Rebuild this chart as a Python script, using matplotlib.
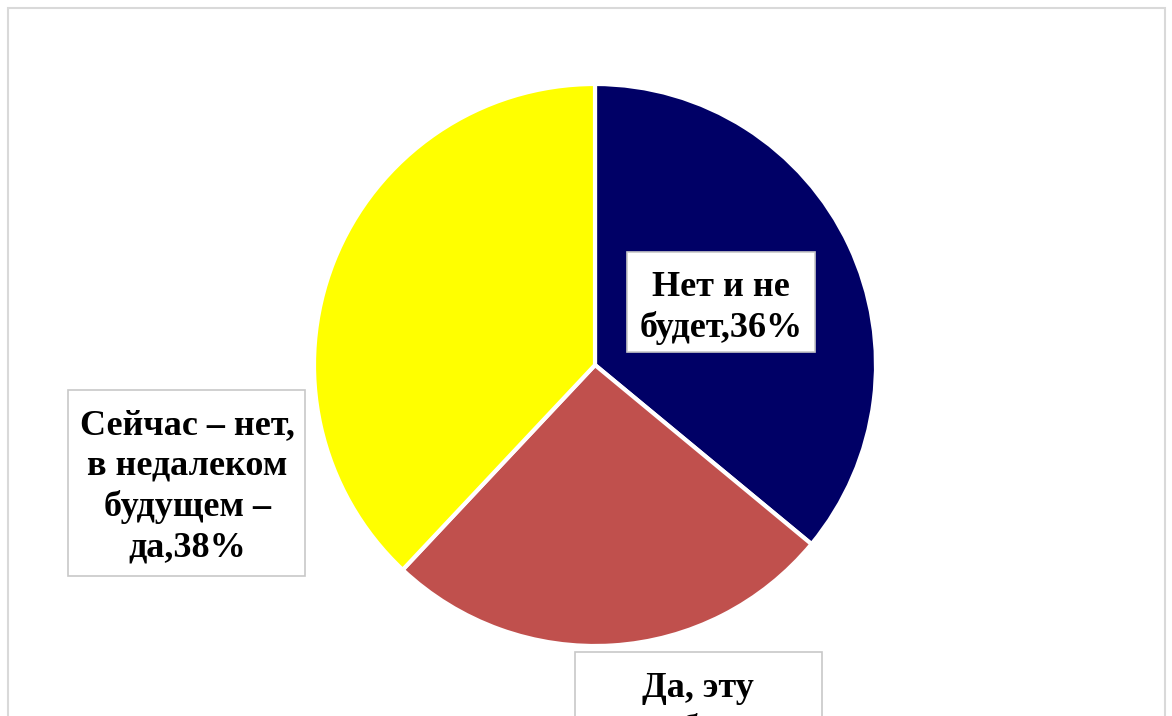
import matplotlib.pyplot as plt
from matplotlib.patches import Rectangle

labels = ["Нет и не\nбудет,36%", "Да, эту\nработу\nделаю,26%", "Сейчас – нет,\nв недалеком\nбудущем –\nда,38%"]
values = [36, 26, 38]
colors = ["#000066", "#C0504D", "#FFFF00"]

W, H = 1172, 716
fig = plt.figure(figsize=(W / 100, H / 100), dpi=100)
ax = fig.add_axes([0, 0, 1, 1])

# outer chart frame
ax.add_patch(Rectangle((8, -10), 1157, H - 8 + 10, fill=False, edgecolor="#d9d9d9", lw=1.5))

ax.pie(values, colors=colors, startangle=90, counterclock=False,
       center=(595, H - 365), radius=281,
       wedgeprops=dict(edgecolor="white", linewidth=3), frame=True)
ax.set_xlim(0, W)
ax.set_ylim(0, H)
ax.axis("off")

font = dict(family="Liberation Serif", weight="bold", size=26, color="black")

def label_box(x0, y0, w, h):
    # box given in pixels from top-left
    ax.add_patch(Rectangle((x0, H - y0 - h), w, h, facecolor="white",
                           edgecolor="#c8c8c8", lw=1.2, zorder=3))

label_box(627, 252, 188, 100)
label_box(68, 390, 237, 186)
label_box(575, 652, 247, 150)

ax.text(721, H - 308, labels[0], ha="center", va="center", linespacing=1.28, zorder=4, **font)
ax.text(187, H - 487, labels[2], ha="center", va="center", linespacing=1.3, zorder=4, **font)
ax.text(698, H - 672, labels[1], ha="center", va="top", linespacing=1.3, zorder=4, **font)

fig.savefig("out.png", dpi=100)
